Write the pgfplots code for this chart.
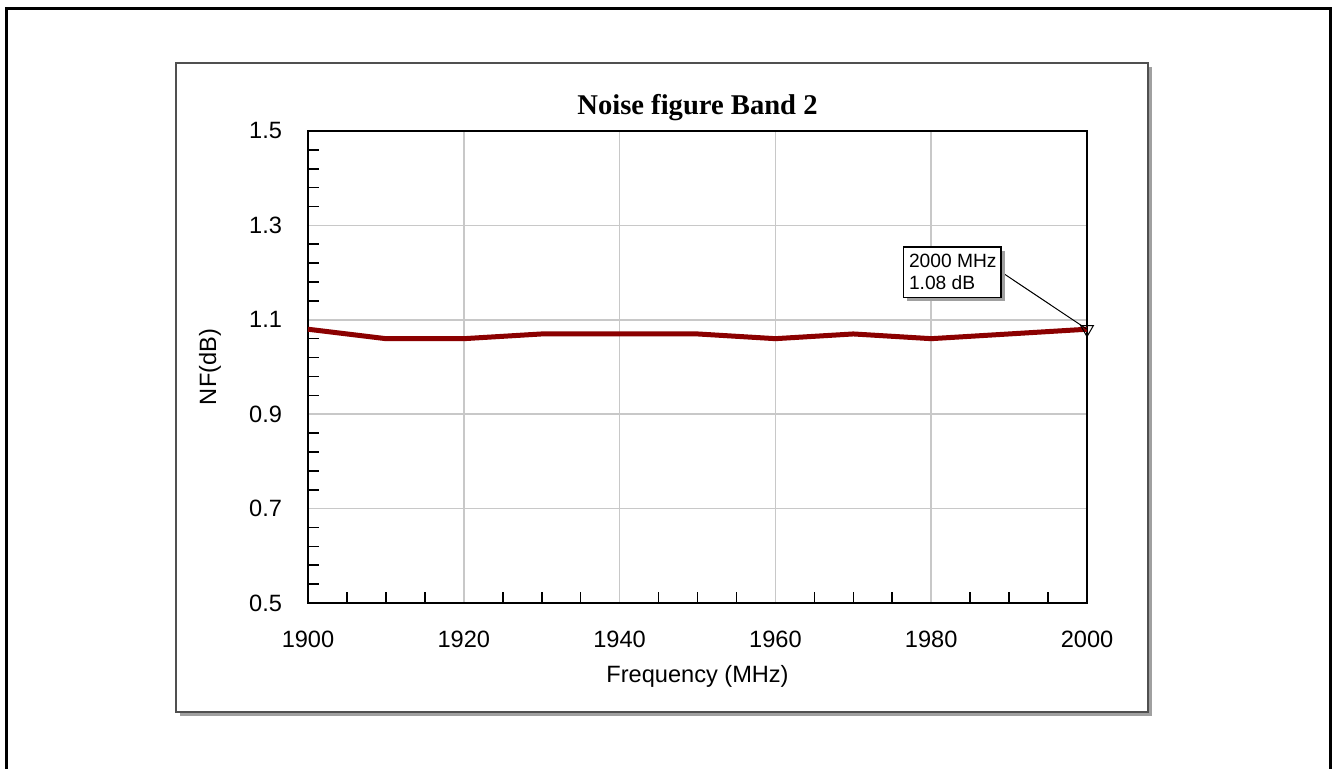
\documentclass[border=0pt]{standalone}
\usepackage{pgfplots}
\pgfplotsset{compat=1.18}
\usepackage{fontspec}
\setmainfont{Liberation Sans}
\newfontfamily\titlefont{Liberation Serif}

\definecolor{nfred}{RGB}{139,0,0}
\definecolor{gridgray}{RGB}{200,200,200}
\definecolor{shadowgray}{RGB}{160,160,160}
\definecolor{panelborder}{RGB}{80,80,80}

\begin{document}
\begin{tikzpicture}
  % page area
  \useasboundingbox (0,0) rectangle (666pt,384.5pt);
  % outer frame (open at the bottom edge of the page)
  \draw[line width=1.5pt, line join=miter]
    (3.25pt,-2pt) -- (3.25pt,380pt) -- (665pt,380pt) -- (665pt,-2pt);
  % chart panel with drop shadow
  \fill[shadowgray] (90pt,26.5pt) rectangle (576pt,351pt);
  \draw[panelborder, fill=white, line width=0.6pt] (88pt,28.5pt) rectangle (574pt,353pt);

  \begin{axis}[
    at={(154pt,83pt)}, anchor=south west,
    scale only axis,
    width=389.5pt, height=236pt,
    xmin=1900, xmax=2000,
    ymin=0.5, ymax=1.5,
    xtick={1900,1920,1940,1960,1980,2000},
    ytick={0.5,0.7,0.9,1.1,1.3,1.5},
    minor x tick num=3,
    minor y tick num=4,
    xtick pos=bottom, ytick pos=left,
    tick align=inside,
    major tick length=0pt,
    minor tick length=5.5pt,
    tick style={black, line width=0.8pt},
    axis line style={black, line width=1pt},
    grid=major,
    major grid style={gridgray, line width=0.8pt},
    /pgf/number format/assume math mode=true,
    ticklabel style={font=\fontsize{11.8}{14}\selectfont},
    xticklabel style={/pgf/number format/1000 sep={}, yshift=-10.5pt},
    yticklabel style={/pgf/number format/fixed, /pgf/number format/fixed zerofill,
                      /pgf/number format/precision=1, xshift=-9.5pt},
    xlabel={Frequency (MHz)},
    ylabel={NF(dB)},
    label style={font=\fontsize{11.8}{14}\selectfont},
    xlabel style={at={(axis description cs:0.5,0)}, anchor=base, yshift=-40pt},
    ylabel style={at={(axis description cs:0,0.5)}, anchor=center, rotate=0,
                  xshift=0pt, yshift=49pt},
    clip=false,
  ]
    % chart title
    \node[anchor=base, font=\titlefont\bfseries\fontsize{14.3}{16}\selectfont]
      at ([yshift=8pt]axis description cs:0.5,1) {Noise figure Band 2};
    % measured noise figure
    \addplot[nfred, line width=2.5pt, line join=round] coordinates {
      (1900,1.08) (1910,1.06) (1920,1.06) (1930,1.07) (1940,1.07)
      (1950,1.07) (1960,1.06) (1970,1.07) (1980,1.06) (1990,1.07)
      (2000,1.08)
    };
    % marker callout line
    \draw[black, line width=0.5pt] (axis cs:1989.2,1.199) -- (axis cs:2000,1.08);
    % marker at 2000 MHz
    \addplot[only marks, mark=triangle, mark size=3.7pt,
             mark options={rotate=180, black, fill=white, line width=0.5pt}]
      coordinates {(2000,1.08)};
    % callout box with shadow
    \fill[shadowgray] ([xshift=2pt,yshift=-2pt]axis cs:1976.4,1.254)
      rectangle ([xshift=2pt,yshift=-2pt]axis cs:1988.96,1.148);
    \draw[black, fill=white, line width=0.6pt] (axis cs:1976.4,1.254)
      rectangle (axis cs:1988.96,1.148);
    \node[anchor=west, align=left, inner sep=0pt,
          font=\fontsize{9.6}{10.8}\selectfont]
      at (axis cs:1977.1,1.201) {2000 MHz\\1.08 dB};
  \end{axis}
\end{tikzpicture}
\end{document}
